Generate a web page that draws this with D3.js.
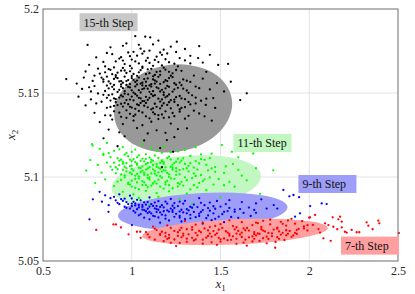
<!DOCTYPE html>
<html>
<head>
<meta charset="utf-8">
<script src="https://cdn.jsdelivr.net/npm/d3@7"></script>
<style>
    html, body { margin: 0; padding: 0; background: #fff; }
    svg { display: block; }
    svg text { font-family: "Liberation Serif", "Times New Roman", Times, serif !important; }
</style>
</head>
<body>
<div id="chart"></div>
<script>
// Axis ticks
const xTicks = [0.5, 1, 1.5, 2, 2.5];
const xTickLabels = ["0.5", "1", "1.5", "2", "2.5"];
const yTicks = [5.05, 5.1, 5.15, 5.2];
const yTickLabels = ["5.05", "5.1", "5.15", "5.2"];

// Steps (drawn back to front)
const stepNames = ["15-th Step", "11-th Step", "9-th Step", "7-th Step"];
const pointColors = ["#000000", "#00ff00", "#0000ff", "#ff0000"];
const ellipseColors = ["#999999", "#c2f7c2", "#9e9ef8", "#ff9f9f"];
const boxColors = ["#c8c8c8", "#c2f7c2", "#9e9ef8", "#ff9f9f"];

// Ellipse: center x1, center x2, half width (x1), half height (x2), tilt (deg)
const ellCx = [1.233, 1.307, 1.40, 1.582];
const ellCy = [5.1408, 5.097, 5.0795, 5.0673];
const ellRx = [0.335, 0.422, 0.478, 0.523];
const ellRy = [0.0259, 0.0155, 0.011, 0.0075];
const ellTilt = [-10, -5, -3, -2.5];

// Label anchors (data coords of the box's top-left corner)
const labelX = [0.706, 1.573, 1.939, 2.179];
const labelY = [5.1975, 5.1256, 5.1012, 5.0645];

// Sample clouds
const black = [
    [1.02,5.1838],[1.076,5.1835],[1.104,5.1831],[1.254,5.1805],[1.15,5.1812],[0.97,5.1795],
    [0.88,5.1772],[0.95,5.1781],[1.05,5.1764],[1.12,5.1789],[1.18,5.1758],[1.22,5.1776],[1.30,5.1762],[1.38,5.1779],[0.751,5.1786],
    [0.80,5.1712],[0.86,5.1738],[0.93,5.1705],[0.98,5.1741],[1.03,5.1722],[1.07,5.1748],[1.14,5.1716],[1.20,5.1735],[1.27,5.1708],[1.374,5.1708],[1.44,5.1727],
    [0.76,5.1668],[0.84,5.1685],[0.90,5.1652],[0.95,5.1693],[0.99,5.1661],[1.02,5.1688],[1.06,5.1657],[1.10,5.1679],[1.13,5.1697],[1.17,5.1664],[1.21,5.1683],[1.26,5.1659],[1.33,5.1676],[1.487,5.1667],[1.543,5.1673],
    [0.74,5.1628],[0.82,5.1615],[0.87,5.1642],[0.91,5.1606],[0.94,5.1633],[0.97,5.1619],[1.00,5.1647],[1.03,5.1602],[1.05,5.1636],[1.08,5.1612],[1.11,5.1644],[1.14,5.1625],[1.16,5.1608],[1.19,5.1639],[1.23,5.1617],[1.28,5.1632],[1.35,5.1604],[1.42,5.1626],[1.558,5.1567],
    [0.631,5.1583],[0.78,5.1572],[0.83,5.1591],[0.88,5.1556],[0.90,5.1584],[0.93,5.1569],[0.96,5.1597],[0.99,5.1553],[1.01,5.1578],[1.04,5.1592],[1.06,5.1561],[1.09,5.1587],[1.11,5.1552],[1.13,5.1575],[1.15,5.1596],[1.18,5.1564],[1.21,5.1589],[1.24,5.1558],[1.29,5.1581],[1.33,5.1566],[1.40,5.1585],[1.48,5.1559],
    [0.72,5.1524],[0.79,5.1541],[0.85,5.1512],[0.89,5.1537],[0.92,5.1506],[0.95,5.1529],[0.97,5.1548],[1.00,5.1516],[1.02,5.1539],[1.05,5.1503],[1.07,5.1527],[1.10,5.1545],[1.12,5.1511],[1.14,5.1534],[1.17,5.1519],[1.20,5.1542],[1.23,5.1508],[1.26,5.1531],[1.31,5.1515],[1.36,5.1538],[1.44,5.1521],[1.52,5.1509],[1.648,5.1498],
    [0.70,5.1478],[0.77,5.1462],[0.84,5.1489],[0.88,5.1455],[0.93,5.1473],[0.96,5.1496],[0.99,5.1461],[1.03,5.1484],[1.06,5.1452],[1.08,5.1477],[1.11,5.1493],[1.15,5.1466],[1.18,5.1488],[1.22,5.1457],[1.25,5.1475],[1.30,5.1463],[1.34,5.1486],[1.39,5.1454],[1.459,5.147],[1.611,5.1458],
    [0.74,5.1426],[0.80,5.1438],[0.86,5.1412],[0.91,5.1445],[0.95,5.1419],[0.98,5.1433],[1.02,5.1406],[1.05,5.1441],[1.09,5.1415],[1.13,5.1436],[1.16,5.1408],[1.20,5.1429],[1.24,5.1447],[1.28,5.1411],[1.33,5.1432],[1.417,5.1429],
    [0.79,5.1382],[0.85,5.1367],[0.90,5.1391],[0.94,5.1358],[0.99,5.1376],[1.04,5.1393],[1.08,5.1361],[1.12,5.1385],[1.17,5.1372],[1.21,5.1355],[1.27,5.1389],[1.32,5.1364],[1.38,5.1378],
    [0.82,5.1327],[0.89,5.1342],[0.95,5.1315],[1.01,5.1336],[1.06,5.1308],[1.11,5.1329],[1.15,5.1345],[1.22,5.1318],[1.311,5.129],[1.451,5.1335],
    [0.87,5.1282],[0.93,5.1266],[1.03,5.1291],[1.09,5.1259],[1.14,5.1278],[1.19,5.1263],[1.26,5.1285],
    [0.841,5.123],[0.96,5.1242],[1.07,5.1218],[1.198,5.122],[1.24,5.1237],
    [0.92,5.1183],[1.16,5.1172],[1.233,5.115],
    [0.86,5.1597],[0.89,5.1612],[0.92,5.1588],[0.94,5.1571],[0.96,5.1634],[0.98,5.1577],[1.00,5.1601],[1.02,5.1566],[1.04,5.1623],[1.07,5.1583],[1.09,5.1641],[1.12,5.1599],[1.14,5.1568],[1.16,5.1629],[1.19,5.1576],[1.22,5.1603],[1.25,5.1637],[1.27,5.1562],
    [0.87,5.1527],[0.90,5.1548],[0.93,5.1519],[0.95,5.1561],[0.98,5.1536],[1.01,5.1502],[1.03,5.1551],[1.06,5.1523],[1.08,5.1542],[1.10,5.1507],[1.13,5.1556],[1.15,5.1528],[1.18,5.1503],[1.21,5.1537],[1.24,5.1522],[1.28,5.1546],[1.32,5.1501],[1.38,5.1529],
    [0.86,5.1471],[0.89,5.1492],[0.91,5.1463],[0.94,5.1485],[0.97,5.1458],[1.00,5.1479],[1.02,5.1494],[1.05,5.1468],[1.07,5.1452],[1.10,5.1471],[1.13,5.1487],[1.16,5.1449],[1.19,5.1474],[1.21,5.1491],[1.24,5.1461],[1.27,5.1482],[1.32,5.1447],[1.36,5.1473],[1.42,5.1466],
    [0.88,5.1417],[0.92,5.1428],[0.96,5.1441],[1.00,5.1413],[1.03,5.1432],[1.07,5.1424],[1.11,5.1403],[1.14,5.1418],[1.18,5.1439],[1.22,5.1409],[1.26,5.1427],[1.30,5.1416],[1.36,5.1438],[1.47,5.1411],
    [0.88,5.1366],[0.97,5.1352],[1.02,5.1371],[1.06,5.1384],[1.10,5.1349],[1.15,5.1368],[1.19,5.1391],[1.24,5.1362],[1.30,5.1347],[1.35,5.1395],[1.41,5.1361],
    [0.91,5.1688],[0.96,5.1672],[1.00,5.1699],[1.04,5.1676],[1.08,5.1692],[1.12,5.1662],[1.15,5.1684],[1.19,5.1701],[1.24,5.1674],[1.30,5.1694],[1.40,5.1681],
    [0.89,5.1731],[0.99,5.1719],[1.06,5.1734],[1.10,5.1752],[1.17,5.1727],[1.25,5.1744],[1.33,5.1721],
    [0.81,5.1645],[0.85,5.1658],[0.79,5.1603],[0.84,5.1567],[0.76,5.1534],[0.81,5.1497],[0.83,5.1448],[0.77,5.1509],
    [0.85,5.1623],[0.88,5.1638],[0.92,5.1621],[0.95,5.1649],[0.99,5.1629],[1.01,5.1613],[1.06,5.1649],[1.10,5.1618],[1.13,5.1607],[1.18,5.1651],[1.21,5.1626],
    [0.84,5.1581],[0.87,5.1569],[0.91,5.1594],[0.94,5.1551],[0.97,5.1571],[1.00,5.1588],[1.03,5.1574],[1.05,5.1556],[1.08,5.1567],[1.12,5.1581],[1.16,5.1554],[1.20,5.1571],[1.23,5.1594],[1.31,5.1573],
    [0.86,5.1544],[0.90,5.1522],[0.94,5.1538],[0.96,5.1511],[0.99,5.1533],[1.04,5.1517],[1.06,5.1545],[1.09,5.1526],[1.11,5.1538],[1.16,5.1509],[1.19,5.1528],[1.25,5.1549],[1.29,5.1526],
    [0.87,5.1487],[0.90,5.1468],[0.95,5.1479],[0.98,5.1492],[1.01,5.1456],[1.04,5.1471],[1.09,5.1459],[1.12,5.1482],[1.17,5.1462],[1.20,5.1481],[1.28,5.1468],
    [0.90,5.1423],[0.94,5.1436],[0.99,5.1418],[1.04,5.1427],[1.08,5.1441],[1.12,5.1409],[1.17,5.1424],[1.21,5.1445],[1.27,5.1402],
    [0.93,5.1383],[0.97,5.1397],[1.01,5.1362],[1.13,5.1374],[1.18,5.1352],[1.23,5.1381],
    [0.94,5.1713],[1.01,5.1745],[1.09,5.1709],[1.16,5.1741],[1.04,5.1787],[0.69,5.1556],[0.73,5.1592],[1.17,5.1058]
];
const green = [
    [0.78,5.1187],[0.86,5.1203],[0.95,5.1178],[1.06,5.1195],[1.18,5.1182],[1.36,5.1176],[1.508,5.119],[0.776,5.1196],
    [0.84,5.1138],[0.90,5.1156],[0.97,5.1142],[1.02,5.1163],[1.08,5.1135],[1.14,5.1158],[1.22,5.1147],[1.30,5.1161],[1.45,5.1139],[1.564,5.115],[1.685,5.114],[0.840,5.1131],
    [0.766,5.1101],[0.88,5.1118],[0.93,5.1097],[0.98,5.1124],[1.01,5.1106],[1.04,5.1128],[1.07,5.1093],[1.10,5.1115],[1.13,5.1127],[1.17,5.1099],[1.21,5.1121],[1.26,5.1108],[1.33,5.1125],[1.41,5.1102],[1.60,5.1117],
    [0.81,5.1072],[0.86,5.1085],[0.91,5.1058],[0.95,5.1079],[0.99,5.1064],[1.02,5.1088],[1.05,5.1053],[1.08,5.1076],[1.11,5.1089],[1.14,5.1061],[1.16,5.1083],[1.19,5.1057],[1.23,5.1074],[1.27,5.1086],[1.32,5.1066],[1.38,5.1081],[1.47,5.1059],[1.57,5.1077],
    [0.744,5.1038],[0.83,5.1026],[0.89,5.1043],[0.94,5.1015],[0.97,5.1034],[1.00,5.1048],[1.03,5.1019],[1.06,5.1037],[1.09,5.1012],[1.12,5.1045],[1.15,5.1028],[1.18,5.1041],[1.21,5.1016],[1.25,5.1033],[1.29,5.1047],[1.35,5.1021],[1.43,5.1039],[1.52,5.1024],[1.797,5.104],
    [0.85,5.0986],[0.92,5.0973],[0.96,5.0998],[1.00,5.0979],[1.04,5.0991],[1.07,5.0968],[1.10,5.0985],[1.13,5.0972],[1.17,5.0996],[1.20,5.0977],[1.24,5.0989],[1.28,5.0971],[1.34,5.0993],[1.40,5.0975],[1.49,5.0988],[1.648,5.098],
    [0.794,5.0964],[0.90,5.0946],[0.98,5.0958],[1.02,5.0935],[1.06,5.0952],[1.09,5.0939],[1.12,5.0961],[1.16,5.0943],[1.19,5.0956],[1.23,5.0933],[1.29,5.0949],[1.37,5.0938],[1.46,5.0955],[1.58,5.0942],
    [0.95,5.0912],[1.01,5.0896],[1.08,5.0918],[1.14,5.0904],[1.21,5.0915],[1.31,5.0901],[1.42,5.0921],[1.723,5.090],
    [1.04,5.0875],[1.15,5.0882],[1.27,5.0868],[1.50,5.0879],
    [1.10,5.0836],[1.34,5.0842],
    [0.92,5.1112],[0.95,5.1091],[0.99,5.1103],[1.03,5.1117],[1.05,5.1096],[1.08,5.1108],[1.12,5.1098],[1.15,5.1113],[1.18,5.1087],[1.22,5.1104],[1.25,5.1092],[1.29,5.1111],[1.36,5.1095],[1.44,5.1112],
    [0.88,5.1062],[0.93,5.1071],[0.97,5.1052],[1.00,5.1068],[1.03,5.1081],[1.06,5.1063],[1.09,5.1051],[1.12,5.1072],[1.15,5.1056],[1.18,5.1079],[1.22,5.1061],[1.25,5.1052],[1.30,5.1078],[1.35,5.1056],[1.42,5.1072],[1.53,5.1063],
    [0.91,5.1022],[0.95,5.1041],[0.99,5.1026],[1.02,5.1008],[1.05,5.1029],[1.08,5.1044],[1.11,5.1021],[1.14,5.1009],[1.17,5.1032],[1.20,5.1024],[1.23,5.1043],[1.27,5.1017],[1.32,5.1034],[1.39,5.1012],[1.47,5.1031],
    [0.94,5.0982],[0.98,5.0967],[1.02,5.0988],[1.06,5.0976],[1.09,5.0994],[1.12,5.0962],[1.15,5.0983],[1.19,5.0969],[1.22,5.0992],[1.26,5.0964],[1.31,5.0981],[1.38,5.0965],[1.44,5.0997],
    [1.00,5.0943],[1.04,5.0927],[1.11,5.0949],[1.18,5.0931],[1.26,5.0944],[1.33,5.0926],[1.52,5.0951],[1.62,5.1008],[1.70,5.1052],
    [0.87,5.1142],[0.93,5.1165],[1.00,5.1149],[1.11,5.1171],[1.26,5.1152],[0.82,5.1168],
    [0.90,5.1085],[0.94,5.1103],[0.97,5.1082],[1.00,5.1094],[1.03,5.1073],[1.06,5.1109],[1.09,5.1084],[1.11,5.1102],[1.14,5.1076],[1.17,5.1092],[1.20,5.1113],[1.24,5.1083],[1.28,5.1097],[1.33,5.1082],[1.39,5.1106],
    [0.92,5.1046],[0.96,5.1061],[1.01,5.1039],[1.04,5.1055],[1.07,5.1024],[1.10,5.1058],[1.13,5.1036],[1.16,5.1049],[1.19,5.1038],[1.23,5.1055],[1.27,5.1041],[1.31,5.1052],[1.37,5.1044],[1.45,5.1051],
    [0.96,5.1009],[1.00,5.1017],[1.04,5.1003],[1.07,5.1013],[1.10,5.0998],[1.13,5.1019],[1.16,5.1005],[1.21,5.1001],[1.25,5.1013],[1.30,5.0998],[1.36,5.1006],[1.41,5.0986],
    [0.99,5.0955],[1.03,5.0968],[1.08,5.0952],[1.14,5.0961],[1.21,5.0951],[1.27,5.0958],[1.35,5.0951],[1.55,5.0971],[1.60,5.1043],[1.39,5.1135],[1.17,5.1144],[0.96,5.1133]
];
const blue = [
    [0.762,5.0748],[0.781,5.0867],[0.819,5.0912],[0.869,5.0793],[0.832,5.0853],[1.001,5.0714],[0.85,5.0891],[0.88,5.0874],
    [0.90,5.0882],[0.93,5.0897],[0.96,5.0871],[0.99,5.0889],[1.03,5.0864],[1.10,5.0878],[1.22,5.0869],[1.38,5.0874],[1.55,5.0862],[1.73,5.0867],[1.854,5.0923],[1.911,5.0893],[1.888,5.0885],[1.943,5.088],
    [0.92,5.0846],[0.95,5.0858],[0.98,5.0839],[1.01,5.0852],[1.04,5.0834],[1.07,5.0849],[1.11,5.0838],[1.15,5.0856],[1.20,5.0841],[1.27,5.0853],[1.35,5.0836],[1.44,5.0848],[1.53,5.0839],[1.62,5.0851],[1.70,5.0843],[2.07,5.0843],[2.098,5.0839],
    [0.97,5.0817],[1.00,5.0826],[1.03,5.0808],[1.06,5.0822],[1.09,5.0811],[1.12,5.0828],[1.15,5.0805],[1.18,5.0819],[1.22,5.0812],[1.26,5.0827],[1.31,5.0809],[1.37,5.0821],[1.43,5.0815],[1.50,5.0824],[1.58,5.0806],[1.66,5.0818],[1.76,5.0812],[2.005,5.0827],
    [1.02,5.0788],[1.05,5.0779],[1.08,5.0796],[1.11,5.0783],[1.14,5.0791],[1.17,5.0776],[1.21,5.0794],[1.25,5.0781],[1.29,5.0789],[1.33,5.0775],[1.39,5.0792],[1.46,5.0784],[1.54,5.0797],[1.63,5.0786],[1.948,5.0784],
    [1.07,5.0758],[1.13,5.0766],[1.19,5.0752],[1.24,5.0763],[1.30,5.0749],[1.36,5.0761],[1.42,5.0755],[1.49,5.0764],[1.60,5.0757],[1.92,5.0764],
    [1.16,5.0728],[1.28,5.0735],[1.40,5.0722],[1.52,5.0731],
    [0.94,5.0868],[0.97,5.0851],[1.00,5.0872],[1.02,5.0843],[1.05,5.0861],[1.08,5.0836],[1.13,5.0848],[1.17,5.0832],[1.24,5.0845],[1.30,5.0858],[1.41,5.0832],[1.48,5.0857],
    [0.99,5.0812],[1.02,5.0831],[1.04,5.0819],[1.07,5.0803],[1.10,5.0824],[1.13,5.0813],[1.16,5.0822],[1.20,5.0801],[1.24,5.0816],[1.28,5.0805],[1.34,5.0817],[1.40,5.0803],[1.47,5.0811],[1.55,5.0816],[1.69,5.0804],
    [1.04,5.0772],[1.09,5.0785],[1.12,5.0769],[1.16,5.0789],[1.19,5.0771],[1.23,5.0792],[1.27,5.0768],[1.31,5.0784],[1.35,5.0792],[1.43,5.0771],[1.51,5.0779],[1.58,5.0793],[1.70,5.0787],[1.82,5.0812],
    [1.10,5.0748],[1.21,5.0741],[1.33,5.0754],[1.45,5.0743],[1.56,5.0762],[1.67,5.0768],[1.80,5.0833],[0.91,5.0861],[0.87,5.0832],
    [0.93,5.0838],[0.96,5.0823],[1.00,5.0841],[1.06,5.0833],[1.09,5.0851],[1.14,5.0827],[1.19,5.0853],[1.23,5.0829],[1.29,5.0841],[1.33,5.0823],[1.39,5.0846],[1.46,5.0826],
    [1.01,5.0798],[1.06,5.0806],[1.10,5.0793],[1.14,5.0809],[1.18,5.0796],[1.23,5.0803],[1.27,5.0794],[1.32,5.0801],[1.38,5.0782],[1.44,5.0799],[1.52,5.0793],[1.61,5.0809],
    [1.15,5.0759],[1.27,5.0758],[1.38,5.0768],[1.47,5.0751]
];
const red = [
    [0.80,5.0685],[0.897,5.0718],[0.911,5.0718],[0.939,5.070],[0.982,5.0659],[1.029,5.0674],[1.048,5.0674],
    [1.30,5.0738],[1.55,5.0742],[1.70,5.0729],[1.78,5.0746],[1.84,5.0733],[1.90,5.0751],[1.96,5.0737],[2.00,5.0758],[2.033,5.0774],[2.005,5.076],
    [1.12,5.0705],[1.20,5.0712],[1.28,5.0697],[1.36,5.0716],[1.44,5.0702],[1.50,5.0719],[1.57,5.0708],[1.63,5.0694],[1.68,5.0714],[1.73,5.0703],[1.78,5.0718],[1.82,5.0699],[1.87,5.0711],[1.92,5.0722],[1.97,5.0706],
    [1.08,5.0672],[1.14,5.0684],[1.19,5.0667],[1.24,5.0679],[1.29,5.0663],[1.34,5.0686],[1.39,5.0671],[1.43,5.0682],[1.48,5.0665],[1.53,5.0677],[1.58,5.0688],[1.62,5.0669],[1.66,5.0681],[1.71,5.0664],[1.75,5.0676],[1.80,5.0687],[1.85,5.0668],[1.89,5.0679],[1.94,5.0691],
    [1.10,5.0642],[1.16,5.0655],[1.21,5.0637],[1.26,5.0649],[1.31,5.0633],[1.37,5.0652],[1.42,5.0639],[1.47,5.0656],[1.52,5.0634],[1.57,5.0647],[1.61,5.0658],[1.66,5.0641],[1.70,5.0653],[1.74,5.0636],[1.79,5.0648],[1.84,5.0657],[1.90,5.0644],
    [1.18,5.0618],[1.27,5.0607],[1.35,5.0622],[1.45,5.0611],[1.54,5.0624],[1.63,5.0609],[1.72,5.0619],[1.81,5.0613],
    [1.25,5.0589],[1.48,5.0596],[1.648,5.0591],[1.808,5.0579],
    [2.089,5.0724],[2.108,5.0714],[2.132,5.076],[2.164,5.0748],[2.183,5.0734],[2.174,5.0764],[2.136,5.0704],[2.158,5.0689],[2.183,5.070],[2.201,5.0674],[2.211,5.0669],[2.239,5.0685],[2.267,5.0671],[2.282,5.0671],[2.323,5.073],[2.333,5.071],[2.357,5.0689],[2.389,5.074],[2.395,5.0724],[2.505,5.0666],[2.121,5.062],[2.08,5.0635],[2.052,5.069],[2.061,5.0669],[2.02,5.0715],[1.99,5.0682],
    [1.13,5.0693],[1.17,5.0674],[1.22,5.0697],[1.26,5.0671],[1.31,5.0689],[1.36,5.0668],[1.41,5.0694],[1.46,5.0678],[1.51,5.0697],[1.55,5.0662],[1.60,5.0679],[1.65,5.0697],[1.69,5.0672],[1.73,5.0689],[1.77,5.0667],[1.82,5.0692],[1.87,5.0683],[1.92,5.0668],[1.97,5.0694],
    [1.13,5.0627],[1.19,5.0646],[1.24,5.0628],[1.29,5.0651],[1.34,5.0638],[1.40,5.0627],[1.45,5.0645],[1.50,5.0629],[1.55,5.0651],[1.59,5.0632],[1.64,5.0627],[1.68,5.0646],[1.72,5.0661],[1.77,5.0631],[1.82,5.0642],[1.87,5.0653],[1.93,5.0661],
    [1.22,5.0608],[1.31,5.0614],[1.40,5.0603],[1.50,5.0615],[1.59,5.0602],[1.68,5.0616],[1.76,5.0605],[1.86,5.0625],
    [1.40,5.0729],[1.62,5.0731],[1.74,5.0739],[1.88,5.0741],[1.05,5.0638],[1.09,5.0658],
    [1.16,5.0662],[1.21,5.0656],[1.27,5.0684],[1.32,5.0659],[1.38,5.0679],[1.44,5.0663],[1.49,5.0686],[1.54,5.0669],[1.59,5.0663],[1.64,5.0683],[1.69,5.0661],[1.74,5.0681],[1.79,5.0664],[1.83,5.0676],[1.88,5.0662],[1.93,5.0684],
    [1.20,5.0632],[1.28,5.0641],[1.36,5.0628],[1.43,5.0649],[1.49,5.0638],[1.56,5.0626],[1.62,5.0643],[1.69,5.0632],[1.76,5.0645],[1.83,5.0632],[1.91,5.0652],
    [1.34,5.0702],[1.47,5.0709],[1.59,5.0701],[1.71,5.0725],[1.85,5.0721],[1.99,5.0713]
];
const clouds = [black, green, blue, red];

const width = 415;
const height = 294;
const margin = { top: 9, right: 17, bottom: 33, left: 43 };

const x = d3.scaleLinear().domain([0.5, 2.5]).range([margin.left, width - margin.right]);
const y = d3.scaleLinear().domain([5.05, 5.2]).range([height - margin.bottom, margin.top]);

const svg = d3.select("#chart").append("svg")
    .attr("width", width)
    .attr("height", height);

// Grid
svg.append("g")
    .selectAll("line")
    .data(xTicks.slice(1, -1))
    .enter().append("line")
    .attr("x1", d => x(d)).attr("x2", d => x(d))
    .attr("y1", y(5.05)).attr("y2", y(5.2))
    .style("stroke", "#e3e3e3").style("stroke-width", "1px");
svg.append("g")
    .selectAll("line")
    .data(yTicks.slice(1, -1))
    .enter().append("line")
    .attr("y1", d => y(d)).attr("y2", d => y(d))
    .attr("x1", x(0.5)).attr("x2", x(2.5))
    .style("stroke", "#e3e3e3").style("stroke-width", "1px");

// Ellipses
const ell = svg.append("g");
stepNames.forEach((name, i) => {
    const cx = x(ellCx[i]), cy = y(ellCy[i]);
    ell.append("ellipse")
        .attr("cx", cx).attr("cy", cy)
        .attr("rx", x(ellCx[i] + ellRx[i]) - cx)
        .attr("ry", cy - y(ellCy[i] + ellRy[i]))
        .attr("transform", `rotate(${ellTilt[i]},${cx},${cy})`)
        .style("fill", ellipseColors[i]);
});

// Points
clouds.forEach((pts, i) => {
    svg.append("g")
        .selectAll("circle")
        .data(pts)
        .enter().append("circle")
        .attr("cx", d => x(d[0]))
        .attr("cy", d => y(d[1]))
        .attr("r", 1.15)
        .style("fill", pointColors[i]);
});

// Axes box
svg.append("rect")
    .attr("x", x(0.5)).attr("y", y(5.2))
    .attr("width", x(2.5) - x(0.5))
    .attr("height", y(5.05) - y(5.2))
    .style("fill", "none").style("stroke", "#6e6e6e").style("stroke-width", "1px");

const xAxis = d3.axisBottom(x).tickValues(xTicks).tickSize(0).tickPadding(5)
    .tickFormat((d, i) => xTickLabels[i]);
svg.append("g")
    .attr("transform", `translate(0,${y(5.05)})`)
    .call(xAxis)
    .call(g => g.select(".domain").remove())
    .selectAll("text")
    .style("font-size", "12px")
    .style("fill", "#262626");

const yAxis = d3.axisLeft(y).tickValues(yTicks).tickSize(0).tickPadding(4)
    .tickFormat((d, i) => yTickLabels[i]);
svg.append("g")
    .attr("transform", `translate(${x(0.5)},0)`)
    .call(yAxis)
    .call(g => g.select(".domain").remove())
    .selectAll("text")
    .style("font-size", "12px")
    .style("fill", "#262626");

// Axis titles
const xt = svg.append("text")
    .attr("x", (x(0.5) + x(2.5)) / 2 - 5)
    .attr("y", 288)
    .style("font-size", "13px")
    .style("fill", "#262626");
xt.append("tspan").style("font-style", "italic").text("x");
xt.append("tspan").attr("dy", 3).style("font-size", "9px").text("1");

const yt = svg.append("text")
    .attr("transform", `translate(15,${(y(5.05) + y(5.2)) / 2 + 5}) rotate(-90)`)
    .style("font-size", "13px")
    .style("fill", "#262626");
yt.append("tspan").style("font-style", "italic").text("x");
yt.append("tspan").attr("dy", 3).style("font-size", "9px").text("2");

// Step labels
stepNames.forEach((name, i) => {
    const g = svg.append("g")
        .attr("transform", `translate(${x(labelX[i])},${y(labelY[i])})`);
    g.append("rect")
        .attr("width", 58).attr("height", 18)
        .style("fill", boxColors[i]);
    g.append("text")
        .attr("x", 4).attr("y", 13.5)
        .text(name)
        .style("font-size", "12px")
        .style("fill", "#111");
});
</script>
</body>
</html>
